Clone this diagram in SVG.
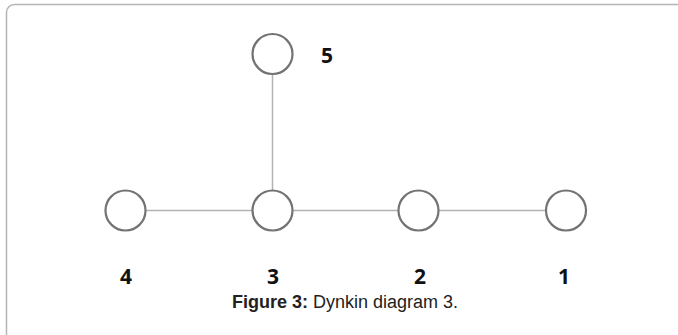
<svg xmlns="http://www.w3.org/2000/svg" width="678" height="335" viewBox="0 0 678 335">
  <style>
    .frame { fill: none; stroke: #b4b4b4; stroke-width: 1.5; }
    .node { fill: #ffffff; stroke: #737373; stroke-width: 2.2; }
    .edge { stroke: #b3b3b3; stroke-width: 1.5; fill: none; }
    .lbl { font-family: "Open Sans", "DejaVu Sans", sans-serif; font-size: 21px; font-weight: 700; fill: #111111; text-anchor: middle; }
    .cap { font-family: "Liberation Sans", Arial, sans-serif; font-size: 18px; fill: #222222; text-anchor: middle; }
  </style>
  <rect width="678" height="335" fill="#ffffff"/>
  <rect class="frame" x="6.5" y="4.5" width="700" height="340" rx="8"/>

  <g id="connectors">
    <line class="edge" x1="272.5" y1="74" x2="272.5" y2="190"/>
    <line class="edge" x1="145.5" y1="210.5" x2="252.5" y2="210.5"/>
    <line class="edge" x1="292.5" y1="210.5" x2="398.5" y2="210.5"/>
    <line class="edge" x1="438.5" y1="210.5" x2="545.5" y2="210.5"/>
  </g>

  <g id="node5">
    <circle class="node" cx="272.5" cy="54" r="20"/>
    <text class="lbl" x="327" y="63">5</text>
  </g>
  <g id="node4">
    <circle class="node" cx="125.5" cy="210.5" r="20"/>
    <text class="lbl" x="126" y="284">4</text>
  </g>
  <g id="node3">
    <circle class="node" cx="272.5" cy="210.5" r="20"/>
    <text class="lbl" x="273" y="284">3</text>
  </g>
  <g id="node2">
    <circle class="node" cx="418.5" cy="210.5" r="20"/>
    <text class="lbl" x="420" y="284">2</text>
  </g>
  <g id="node1">
    <circle class="node" cx="566" cy="210.5" r="20"/>
    <text class="lbl" x="564" y="284">1</text>
  </g>

  <text class="cap" x="345" y="308"><tspan font-weight="bold">Figure 3:</tspan> Dynkin diagram 3.</text>
</svg>
